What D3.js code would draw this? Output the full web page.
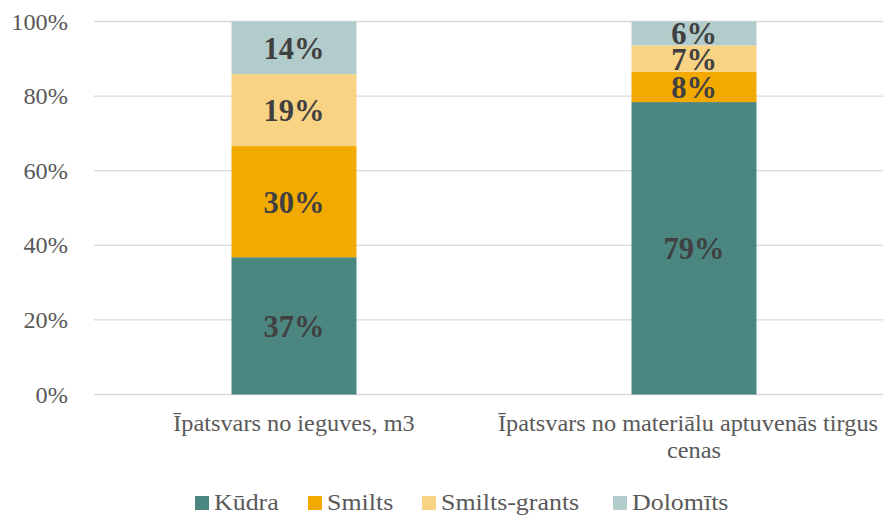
<!DOCTYPE html>
<html><head><meta charset="utf-8">
<script src="https://cdn.jsdelivr.net/npm/d3@7"></script>
<style>body{margin:0;background:#fff}</style>
</head><body><svg id="c" width="883" height="516"></svg>
<script>
const categories = ["Īpatsvars no ieguves, m3", "Īpatsvars no materiālu aptuvenās tirgus cenas"];
const categoryLines = [["Īpatsvars no ieguves, m3"], ["Īpatsvars no materiālu aptuvenās tirgus", "cenas"]];
const seriesNames = ["Kūdra", "Smilts", "Smilts-grants", "Dolomīts"];
const colors = ["#4b8680", "#f2a900", "#f8d384", "#b2cbcb"];
const kudra = [36.8, 78.4];
const smilts = [29.8, 8.1];
const smiltsGrants = [19.3, 7.1];
const dolomits = [14.1, 6.4];
const labels = [["37%", "79%"], ["30%", "8%"], ["19%", "7%"], ["14%", "6%"]];
const yTicks = [0, 20, 40, 60, 80, 100];
const FF = "'Liberation Serif', 'Times New Roman', serif";
const SX = 1.08;

const rows = categories.map((c, i) => ({cat: c, "Kūdra": kudra[i], "Smilts": smilts[i], "Smilts-grants": smiltsGrants[i], "Dolomīts": dolomits[i]}));
const stacked = d3.stack().keys(seriesNames)(rows);

const svg = d3.select("#c");
const x = d3.scaleBand().domain(categories).range([94, 894]).paddingInner(0.6875).paddingOuter(0.34375);
const y = d3.scaleLinear().domain([0, 100]).range([394.5, 21.5]);

function stxt(parent, tx, ty, str, anchor, size, fill, weight) {
  const g = parent.append("g").attr("transform", `translate(${tx},${ty}) scale(${SX},1)`);
  return g.append("text").attr("x", 0).attr("y", 0).attr("text-anchor", anchor)
    .style("font-family", FF).style("font-size", size + "px").style("font-weight", weight || "normal")
    .attr("fill", fill).text(str);
}

// gridlines
svg.append("g").selectAll("line").data(yTicks).join("line")
  .attr("x1", 94).attr("x2", 883).attr("y1", d => y(d)).attr("y2", d => y(d))
  .attr("stroke", "#d9d9d9").attr("stroke-width", 1.3);

// y axis (ticks from the scale, labels stretched like the reference)
const yAxis = d3.axisLeft(y).tickValues(yTicks).tickFormat(d => d + "%").tickSize(0).tickPadding(0);
const ya = svg.append("g").attr("transform", "translate(68,0)").call(yAxis);
ya.select(".domain").remove();
ya.selectAll(".tick text").remove();
ya.selectAll(".tick").each(function(d) {
  stxt(d3.select(this), 0, 0, d + "%", "end", 22.5, "#595959").attr("dy", "0.34em");
});

// bars
const bw = 125;
stacked.forEach((s, si) => {
  svg.append("g").selectAll("rect").data(s).join("rect")
    .attr("x", (d, i) => x(categories[i]) + x.bandwidth() / 2 - bw / 2)
    .attr("width", bw)
    .attr("y", d => y(d[1]))
    .attr("height", d => y(d[0]) - y(d[1]))
    .attr("fill", colors[si]);
  svg.append("g").selectAll("text").data(s).join("text")
    .attr("x", (d, i) => x(categories[i]) + x.bandwidth() / 2)
    .attr("y", d => (y(d[0]) + y(d[1])) / 2)
    .attr("dy", "0.36em")
    .attr("text-anchor", "middle")
    .style("font-family", FF).style("font-size", "30.5px").style("font-weight", "bold")
    .attr("fill", "#404040")
    .text((d, i) => labels[si][i]);
});

// category labels
const cl = svg.append("g");
const cx0 = x(categories[0]) + x.bandwidth() / 2;
const cx1 = x(categories[1]) + x.bandwidth() / 2;
stxt(cl, cx0, 431, categoryLines[0][0], "middle", 22.5, "#595959");
stxt(cl, 878, 431, categoryLines[1][0], "end", 22.5, "#595959");
stxt(cl, cx1, 458, categoryLines[1][1], "middle", 22.5, "#595959");

// legend
const legX = [195, 308, 422, 613];
const lg = svg.append("g");
seriesNames.forEach((n, i) => {
  lg.append("rect").attr("x", legX[i]).attr("y", 496).attr("width", 14).attr("height", 14).attr("fill", colors[i]);
  stxt(lg, legX[i] + 19, 510, n, "start", 24, "#595959");
});
</script></body></html>
